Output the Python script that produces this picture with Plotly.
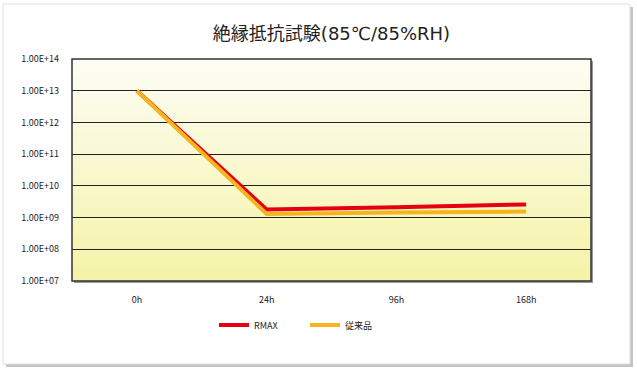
import plotly.graph_objects as go

categories = ["0h", "24h", "96h", "168h"]
rmax = [1.0e13, 1.8e9, 2.1e9, 2.6e9]
conventional = [1.0e13, 1.3e9, 1.45e9, 1.55e9]
tick_vals = [1e7, 1e8, 1e9, 1e10, 1e11, 1e12, 1e13, 1e14]
tick_text = ["1.00E+07", "1.00E+08", "1.00E+09", "1.00E+10",
             "1.00E+11", "1.00E+12", "1.00E+13", "1.00E+14"]

W, H = 637, 370
L, R, T, B = 72, 591, 59, 281

fig = go.Figure()
fig.add_trace(go.Scatter(x=categories, y=rmax, mode="lines", name="RMAX",
                         line=dict(color="#E60012", width=4)))
fig.add_trace(go.Scatter(x=categories, y=conventional, mode="lines", name="従来品",
                         line=dict(color="#F6B41E", width=4)))


def px(x):
    return (x - L) / (R - L)


def py(y):
    return (B - y) / (B - T)


shapes = []
# outer frame shadow and frame
shapes.append(dict(type="rect", xref="paper", yref="paper", layer="below",
                   x0=px(6), x1=px(633), y0=py(367), y1=py(7),
                   fillcolor="#C4C4C4", line=dict(width=0)))
shapes.append(dict(type="rect", xref="paper", yref="paper", layer="below",
                   x0=px(3), x1=px(630), y0=py(364), y1=py(4),
                   fillcolor="#FFFFFF", line=dict(color="#E0E0E0", width=1)))
# plot border shadow
shapes.append(dict(type="rect", xref="paper", yref="paper", layer="below",
                   x0=px(L + 2), x1=px(R + 2), y0=py(B + 2), y1=py(T + 2),
                   fillcolor="#9A9A9A", line=dict(width=0)))
# gradient background bands
n = 40
c0 = (253, 253, 244)
c1 = (245, 243, 168)
for i in range(n):
    t = i / (n - 1)
    c = tuple(int(round(c0[k] + (c1[k] - c0[k]) * t)) for k in range(3))
    shapes.append(dict(type="rect", xref="paper", yref="paper", layer="below",
                       x0=0, x1=1, y0=max(0, 1 - (i + 1) / n - 0.01),
                       y1=1 - i / n,
                       fillcolor="rgb(%d,%d,%d)" % c, line=dict(width=0)))
shapes.append(dict(type="rect", xref="paper", yref="paper", layer="above",
                   x0=0, x1=1, y0=0, y1=1,
                   line=dict(color="#333333", width=1.5)))

fig.update_layout(
    width=W, height=H,
    margin=dict(l=L, r=W - R, t=T, b=H - B),
    paper_bgcolor="white", plot_bgcolor="rgba(0,0,0,0)",
    title=dict(text="絶縁抵抗試験(85℃/85%RH)", x=0.5, xref="paper",
               xanchor="center", y=1 - 34 / H, yanchor="middle",
               font=dict(family="DejaVu Sans, Noto Sans CJK JP", size=18,
                         color="#222222")),
    font=dict(family="Noto Sans CJK JP", size=9, color="#222222"),
    xaxis=dict(type="category", range=[-0.5, 3.5], showgrid=False,
               zeroline=False, showline=False, ticks="",
               tickfont=dict(size=9), ticklabelstandoff=12),
    yaxis=dict(type="log", range=[7, 14], tickvals=tick_vals, ticktext=tick_text,
               showgrid=True, gridcolor="#222222", gridwidth=1,
               zeroline=False, showline=False, ticks="",
               tickfont=dict(size=9), ticklabelstandoff=12),
    showlegend=True,
    legend=dict(orientation="h", x=px(214), xanchor="left",
                y=-(325 - B) / (B - T), yanchor="middle",
                font=dict(size=9), bgcolor="rgba(0,0,0,0)",
                entrywidth=46, entrywidthmode="pixels",
                traceorder="normal"),
    shapes=shapes,
)

fig.write_html("out.html", config={"displayModeBar": False},
               post_script="document.body.style.margin='0';")
